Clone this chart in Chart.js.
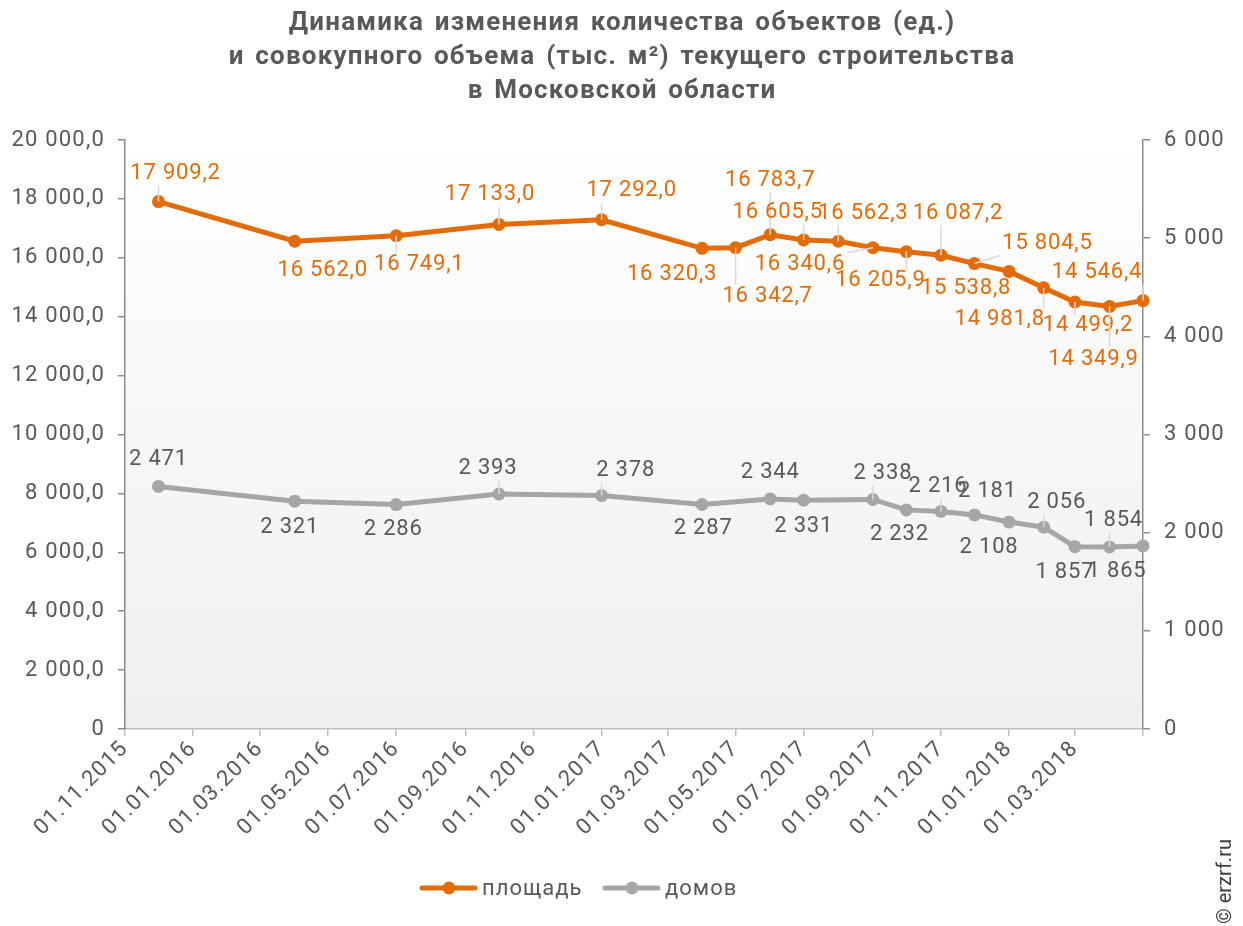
<!DOCTYPE html>
<html>
<head>
<meta charset="utf-8">
<script src="https://cdn.jsdelivr.net/npm/chart.js@4.4.1/dist/chart.umd.min.js"></script>
<style>
  html, body { margin: 0; padding: 0; background: #fff; }
  #wrap { width: 1243px; height: 926px; }
</style>
</head>
<body>
<div id="wrap"><canvas id="chart" width="1243" height="926"></canvas></div>
<script>
const TITLE_LINES = [
    "Динамика изменения количества объектов (ед.)",
    "и совокупного объема (тыс. м²) текущего строительства",
    "в Московской области",
];

const AREA_LABEL = "площадь";
const AREA_DATES = [
    "01.12.2015", "01.04.2016", "01.07.2016", "01.10.2016", "01.01.2017",
    "01.04.2017", "01.05.2017", "01.06.2017", "01.07.2017", "01.08.2017",
    "01.09.2017", "01.10.2017", "01.11.2017", "01.12.2017", "01.01.2018",
    "01.02.2018", "01.03.2018", "01.04.2018", "01.05.2018",
];
const AREA_VALUES = [
    17909.2, 16562.0, 16749.1, 17133.0, 17292.0,
    16320.3, 16342.7, 16783.7, 16605.5, 16562.3,
    16340.6, 16205.9, 16087.2, 15804.5, 15538.8,
    14981.8, 14499.2, 14349.9, 14546.4,
];

const HOUSE_LABEL = "домов";
const HOUSE_DATES = [
    "01.12.2015", "01.04.2016", "01.07.2016", "01.10.2016", "01.01.2017",
    "01.04.2017", "01.06.2017", "01.07.2017", "01.09.2017", "01.10.2017",
    "01.11.2017", "01.12.2017", "01.01.2018", "01.02.2018", "01.03.2018",
    "01.04.2018", "01.05.2018",
];
const HOUSE_VALUES = [
    2471, 2321, 2286, 2393, 2378,
    2287, 2344, 2331, 2338, 2232,
    2216, 2181, 2108, 2056, 1857,
    1854, 1865,
];

const X_TICK_LABELS = [
    "01.11.2015", "01.01.2016", "01.03.2016", "01.05.2016", "01.07.2016",
    "01.09.2016", "01.11.2016", "01.01.2017", "01.03.2017", "01.05.2017",
    "01.07.2017", "01.09.2017", "01.11.2017", "01.01.2018", "01.03.2018",
];
const X_START = "01.11.2015";
const X_END = "01.05.2018";

// label placement (dx, dy from the point, draw leader line or not)
const AREA_LABEL_POS = [
    [17, -28, 1], [28, 29, 0], [23, 29, 1], [-9, -30, 1], [30, -29, 1],
    [-30, 26, 0], [32, 49, 1], [0, -54, 1], [-26, -27, 1], [25, -28, 1],
    [-73, 17, 1], [-26, 29, 1], [17, -42, 1], [73, -20, 1], [-43, 17, 0],
    [-44, 32, 1], [13, 24, 1], [-16, 53, 1], [-46, -28, 1],
];
const HOUSE_LABEL_POS = [
    [0, -27, 0], [-5, 26, 0], [-3, 25, 0], [-11, -26, 1], [24, -25, 1],
    [1, 24, 0], [0, -26, 0], [0, 26, 0], [10, -26, 1], [-7, 25, 0],
    [-3, -25, 1], [13, -23, 0], [-20, 25, 0], [13, -25, 1], [-10, 26, 0],
    [4, -26, 1], [-26, 26, 0],
];

const ORANGE = "#e36c09";
const GREY = "#a6a6a6";
const TEXT = "#595959";
const FONT = "Roboto";

function dayOf(s) {
    const [d, m, y] = s.split(".").map(Number);
    const [d0, m0, y0] = X_START.split(".").map(Number);
    return (Date.UTC(y, m - 1, d) - Date.UTC(y0, m0 - 1, d0)) / 864e5;
}

function fmt(v, dec) {
    if (v === 0) return "0";
    const parts = v.toFixed(dec).split(".");
    const int = parts[0].replace(/\B(?=(\d{3})+(?!\d))/g, " ");
    return parts.length > 1 ? int + "," + parts[1] : int;
}

const tickDays = X_TICK_LABELS.map(dayOf);
const tickLabelByDay = {};
X_TICK_LABELS.forEach((t, i) => { tickLabelByDay[tickDays[i]] = t; });

const bgPlugin = {
    id: "plotBg",
    beforeDraw(chart) {
        const { ctx, chartArea: a } = chart;
        // wider glyph spacing, like the source rendering
        ctx.letterSpacing = "1.2px";
        const g = ctx.createLinearGradient(0, a.top, 0, a.bottom);
        g.addColorStop(0, "#ffffff");
        g.addColorStop(1, "#efefef");
        ctx.save();
        ctx.fillStyle = g;
        ctx.fillRect(a.left, a.top, a.right - a.left, a.bottom - a.top);
        ctx.restore();
    },
};

function drawLabels(chart, dsIndex, values, pos, dec, color) {
    const ctx = chart.ctx;
    const pts = chart.getDatasetMeta(dsIndex).data;
    ctx.save();
    ctx.font = "22px " + FONT;
    ctx.letterSpacing = "0.8px";
    ctx.textAlign = "center";
    ctx.textBaseline = "middle";
    pts.forEach((p, i) => {
        const text = fmt(values[i], dec);
        const [dx, dy, leader] = pos[i];
        const cx = p.x + dx, cy = p.y + dy;
        if (leader) {
            const w = ctx.measureText(text).width / 2 + 2;
            const h = 12;
            const lx = Math.min(Math.max(p.x, cx - w), cx + w);
            const ly = Math.min(Math.max(p.y, cy - h), cy + h);
            ctx.strokeStyle = "#d9d9d9";
            ctx.lineWidth = 1.5;
            ctx.beginPath();
            ctx.moveTo(p.x, p.y);
            ctx.lineTo(lx, ly);
            ctx.stroke();
        }
        ctx.fillStyle = color;
        ctx.fillText(text, cx, cy);
    });
    ctx.restore();
}

const labelPlugin = {
    id: "pointLabels",
    afterDatasetsDraw(chart) {
        drawLabels(chart, 1, HOUSE_VALUES, HOUSE_LABEL_POS, 0, TEXT);
        drawLabels(chart, 0, AREA_VALUES, AREA_LABEL_POS, 1, ORANGE);
    },
};

const decorPlugin = {
    id: "decor",
    afterDraw(chart) {
        const ctx = chart.ctx;
        ctx.save();
        // title
        ctx.fillStyle = TEXT;
        ctx.font = "bold 26px " + FONT;
        ctx.letterSpacing = "1.2px";
        ctx.wordSpacing = "3px";
        ctx.textAlign = "center";
        ctx.textBaseline = "middle";
        TITLE_LINES.forEach((t, i) => ctx.fillText(t, 622, 23 + i * 34));

        // legend
        const items = [[AREA_LABEL, ORANGE, 422], [HOUSE_LABEL, GREY, 605]];
        ctx.font = "22px " + FONT;
        ctx.letterSpacing = "1px";
        ctx.wordSpacing = "0px";
        ctx.textAlign = "left";
        items.forEach(([name, col, x]) => {
            ctx.strokeStyle = col;
            ctx.lineWidth = 5;
            ctx.lineCap = "round";
            ctx.beginPath();
            ctx.moveTo(x, 888);
            ctx.lineTo(x + 53, 888);
            ctx.stroke();
            ctx.fillStyle = col;
            ctx.beginPath();
            ctx.arc(x + 27, 888, 6.5, 0, Math.PI * 2);
            ctx.fill();
            ctx.fillStyle = TEXT;
            ctx.fillText(name, x + 60, 889);
        });

        // source mark
        ctx.translate(1226, 926);
        ctx.rotate(-Math.PI / 2);
        ctx.font = "20px " + FONT;
        ctx.letterSpacing = "0px";
        ctx.fillStyle = "#404040";
        ctx.textAlign = "left";
        ctx.fillText("© erzrf.ru", 2, 0);
        ctx.restore();
    },
};

function lineData(dates, values) {
    return dates.map((d, i) => ({ x: dayOf(d), y: values[i] }));
}

new Chart(document.getElementById("chart"), {
    type: "line",
    data: {
        datasets: [
            {
                label: AREA_LABEL,
                data: lineData(AREA_DATES, AREA_VALUES),
                yAxisID: "y",
                borderColor: ORANGE,
                backgroundColor: ORANGE,
                borderWidth: 5,
                pointRadius: 6.5,
                pointBorderWidth: 0,
                pointBackgroundColor: ORANGE,
                tension: 0,
                clip: false,
            },
            {
                label: HOUSE_LABEL,
                data: lineData(HOUSE_DATES, HOUSE_VALUES),
                yAxisID: "y1",
                borderColor: GREY,
                backgroundColor: GREY,
                borderWidth: 5,
                pointRadius: 6.5,
                pointBorderWidth: 0,
                pointBackgroundColor: GREY,
                tension: 0,
                clip: false,
            },
        ],
    },
    options: {
        responsive: false,
        devicePixelRatio: 1,
        animation: false,
        layout: { padding: { top: 140, left: 0, right: 0, bottom: 0 } },
        plugins: {
            legend: { display: false },
            title: { display: false },
            tooltip: { enabled: false },
        },
        scales: {
            x: {
                type: "linear",
                min: dayOf(X_START),
                max: dayOf(X_END),
                afterBuildTicks(scale) {
                    scale.ticks = tickDays.concat([dayOf(X_END)]).map((v) => ({ value: v }));
                },
                afterFit(scale) { scale.height = 197; },
                ticks: {
                    autoSkip: false,
                    minRotation: 45,
                    maxRotation: 45,
                    color: TEXT,
                    font: { family: FONT, size: 22 },
                    padding: 0,
                    callback: (v) => tickLabelByDay[v] || "",
                },
                grid: { drawOnChartArea: false, color: "#bfbfbf", tickLength: 7, lineWidth: 1.5 },
                border: { color: "#bfbfbf", width: 1.5 },
            },
            y: {
                position: "left",
                min: 0,
                max: 20000,
                afterBuildTicks(scale) {
                    const t = [];
                    for (let v = 0; v <= 20000; v += 2000) t.push({ value: v });
                    scale.ticks = t;
                },
                afterFit(scale) { scale.width = 125; },
                ticks: {
                    color: TEXT,
                    font: { family: FONT, size: 22 },
                    padding: 13,
                    callback: (v) => fmt(v, 1),
                },
                grid: { drawOnChartArea: false, color: "#8c8c8c", tickLength: 7, lineWidth: 1.5 },
                border: { color: "#8c8c8c", width: 1.5 },
            },
            y1: {
                position: "right",
                min: 0,
                max: 6000,
                afterBuildTicks(scale) {
                    const t = [];
                    for (let v = 0; v <= 6000; v += 1000) t.push({ value: v });
                    scale.ticks = t;
                },
                afterFit(scale) { scale.width = 100; },
                ticks: {
                    color: TEXT,
                    font: { family: FONT, size: 22 },
                    padding: 14,
                    callback: (v) => fmt(v, 0),
                },
                grid: { drawOnChartArea: false, color: "#8c8c8c", tickLength: 7, lineWidth: 1.5 },
                border: { color: "#8c8c8c", width: 1.5 },
            },
        },
    },
    plugins: [bgPlugin, labelPlugin, decorPlugin],
});
</script>
</body>
</html>
